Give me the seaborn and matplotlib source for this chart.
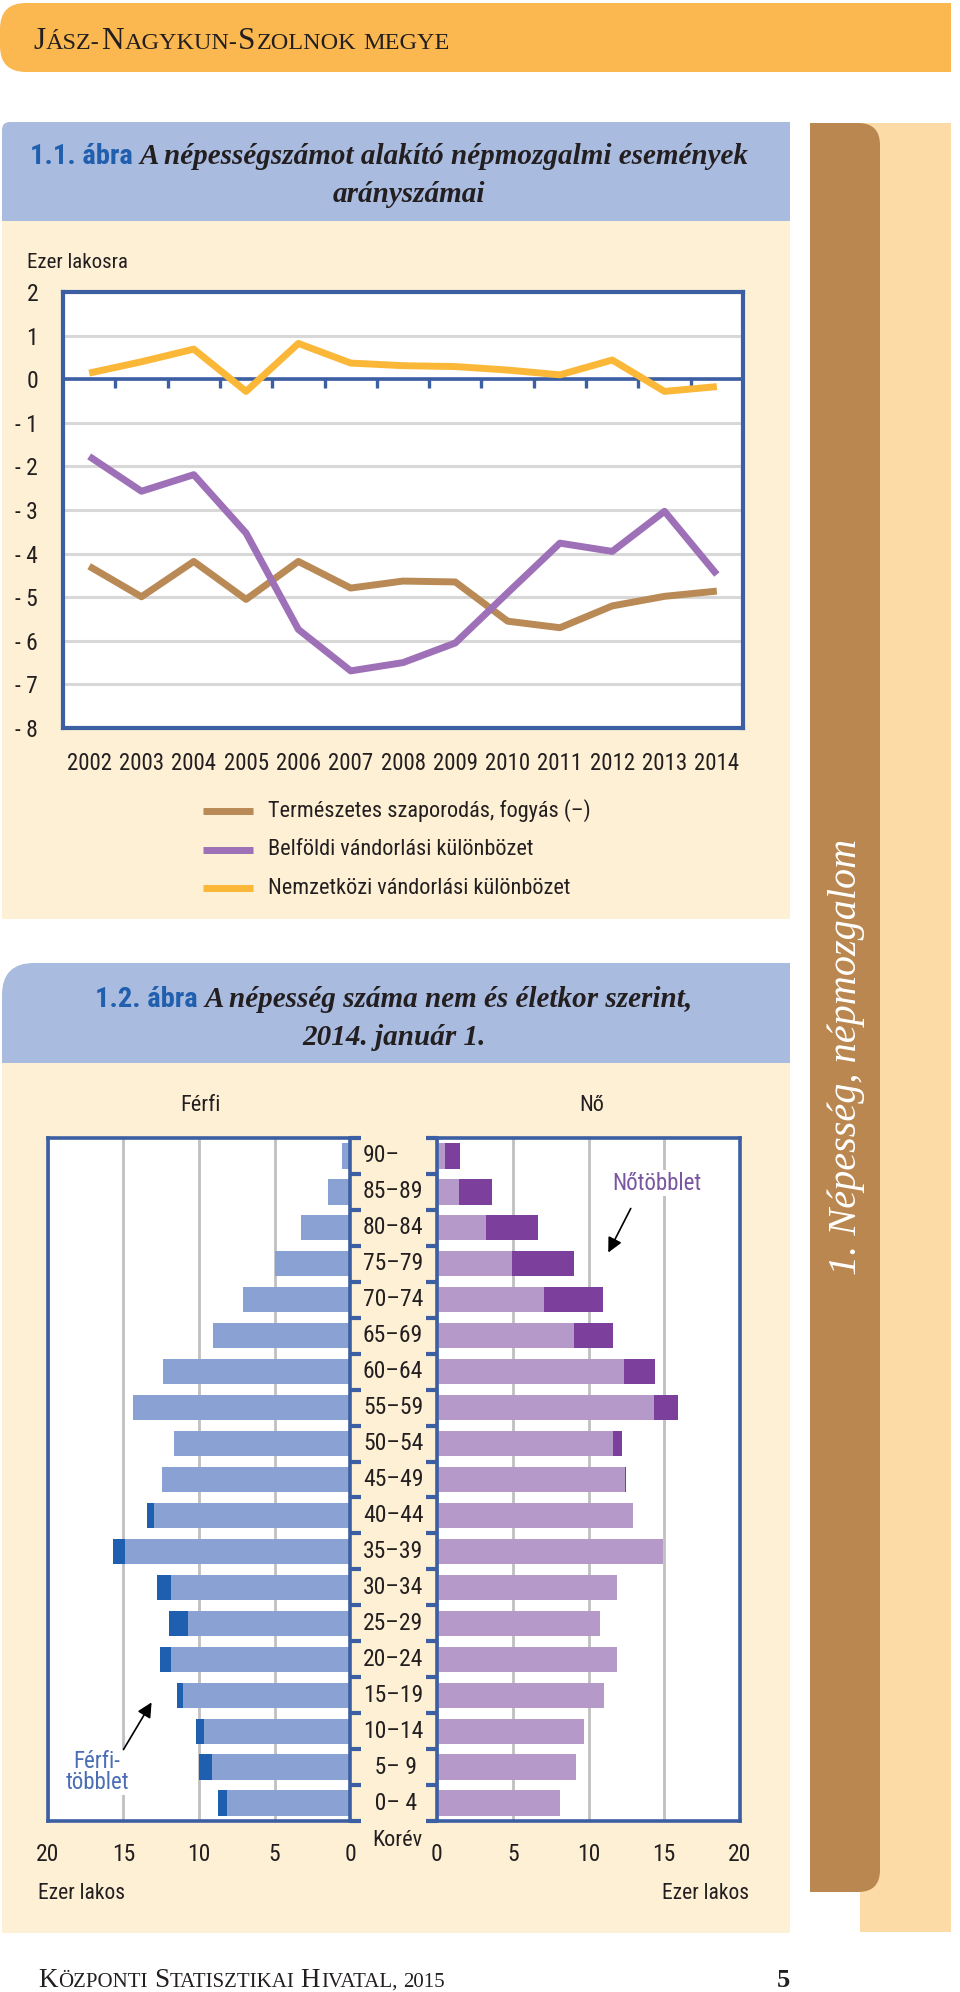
"""
Népmozgalmi arányszámok és korfa — Jász-Nagykun-Szolnok megye, 2002–2014.
"""

import matplotlib
matplotlib.use("Agg")
import matplotlib.pyplot as plt
from matplotlib.patches import FancyBboxPatch, Rectangle
from matplotlib.lines import Line2D
import matplotlib.transforms as mtrans
import numpy as np
import pandas as pd
import seaborn as sns

# --- adatok: 1.1. ábra ---
EVEK = ["2002", "2003", "2004", "2005", "2006", "2007", "2008",
        "2009", "2010", "2011", "2012", "2013", "2014"]
TERMESZETES = [-4.29, -4.99, -4.18, -5.05, -4.18, -4.79, -4.63,
               -4.65, -5.55, -5.70, -5.20, -4.98, -4.86]
BELFOLDI = [-1.77, -2.57, -2.19, -3.53, -5.74, -6.69, -6.50,
            -6.05, -4.90, -3.76, -3.95, -3.03, -4.48]
NEMZETKOZI = [0.14, 0.40, 0.69, -0.28, 0.82, 0.37, 0.31,
              0.29, 0.21, 0.10, 0.44, -0.28, -0.17]
SOROZATOK = ["Természetes szaporodás, fogyás (–)",
             "Belföldi vándorlási különbözet",
             "Nemzetközi vándorlási különbözet"]
Y_TICKS = [2, 1, 0, -1, -2, -3, -4, -5, -6, -7, -8]

# --- adatok: 1.2. ábra (ezer fő) ---
KOREV = ["90–", "85–89", "80–84", "75–79", "70–74", "65–69", "60–64",
         "55–59", "50–54", "45–49", "40–44", "35–39", "30–34", "25–29",
         "20–24", "15–19", "10–14", "\u20075– 9", "\u20070– 4"]
FERFI = [0.55, 1.47, 3.25, 4.97, 7.07, 9.05, 12.37, 14.35, 11.63, 12.43,
         13.46, 15.67, 12.77, 11.99, 12.60, 11.46, 10.17, 9.97, 8.75]
NO = [1.51, 3.64, 6.67, 9.01, 10.94, 11.60, 14.41, 15.94, 12.21, 12.50,
      12.95, 14.89, 11.88, 10.75, 11.85, 11.03, 9.69, 9.17, 8.14]
X_TICKS_PYR = [0, 5, 10, 15, 20]

# --- színek ---
KEK = "#3c5fa3"
SZOVEG = "#231f20"
KREM = "#fdf0d5"
CIMKEK = "#aabbe0"
NARANCS = "#fbb850"
BARNA = "#b9874f"
DRAPP = "#fcdba6"
SZINEK_VONAL = ["#b98a55", "#9e70b7", "#fbb838"]
FERFI_VIL, FERFI_SOT = "#8aa2d3", "#1f5fb0"
NO_VIL, NO_SOT = "#b59ac9", "#7d3f9c"

W, H = 960, 1992

sns.set_style("white")
# keskeny betűtípus, ha van; különben Roboto
plt.rcParams["font.family"] = ["Liberation Sans Narrow", "Roboto Condensed",
                               "Roboto", "DejaVu Sans"]
plt.rcParams["text.color"] = SZOVEG

fig = plt.figure(figsize=(W / 100, H / 100), dpi=100)


def px_ax(x0, y0, x1, y1, **kw):
    """Tengely pixelkoordinátákban (bal-felső origó)."""
    return fig.add_axes([x0 / W, 1 - y1 / H, (x1 - x0) / W, (y1 - y0) / H], **kw)


def full_ax(z):
    a = fig.add_axes([0, 0, 1, 1], zorder=z)
    a.set_xlim(0, W)
    a.set_ylim(H, 0)
    a.axis("off")
    a.patch.set_alpha(0)
    return a


bg = full_ax(-5)
ov = full_ax(10)


def box(x0, y0, x1, y1, color, r=0):
    if r:
        bg.add_patch(FancyBboxPatch((x0, y0), x1 - x0, y1 - y0,
                                    boxstyle=f"round,pad=0,rounding_size={r}",
                                    fc=color, ec="none"))
    else:
        bg.add_patch(Rectangle((x0, y0), x1 - x0, y1 - y0, fc=color, ec="none"))


# háttérelemek
box(0, 3, 951, 72, NARANCS, r=26)
box(500, 3, 951, 72, NARANCS)
box(2, 221, 790, 919, KREM)
box(2, 122, 790, 221, CIMKEK, r=8)
box(30, 122, 790, 221, CIMKEK)
box(2, 140, 790, 221, CIMKEK)
box(2, 1063, 790, 1933, KREM)
box(2, 963, 790, 1063, CIMKEK, r=32)
box(40, 963, 790, 1063, CIMKEK)
box(2, 1000, 790, 1063, CIMKEK)
box(860, 123, 951, 1932, DRAPP)
box(810, 123, 880, 1892, BARNA, r=22)
box(810, 123, 850, 1892, BARNA)


def draw_runs(x, y, runs, ha="center", va="baseline"):
    """Több stílusú szöveg egymás után (runs: (szöveg, rés_px, kw))."""
    r = fig.canvas.get_renderer()
    arts = [ov.text(0, y, s, ha="left", va=va, **kw) for s, g, kw in runs]
    ws = [a.get_window_extent(renderer=r).width for a in arts]
    total = sum(ws) + sum(g for _, g, _ in runs)
    cur = {"center": x - total / 2, "right": x - total}.get(ha, x)
    for a, w, (s, g, kw) in zip(arts, ws, runs):
        cur += g
        a.set_x(cur)
        cur += w


def small_caps(s, big, small, **kw):
    runs = []
    for i, word in enumerate(s.split(" ")):
        gap = 0.28 * small * 100 / 72 if i else 0
        cur, cur_big = "", None
        for ch in word:
            isbig = ch.isupper()
            if cur and isbig != cur_big:
                runs.append((cur, gap, dict(fontsize=big if cur_big else small, **kw)))
                gap, cur = 1.0, ""
            cur += ch.upper()
            cur_big = isbig
        runs.append((cur, gap, dict(fontsize=big if cur_big else small, **kw)))
    return runs


SERIF = dict(family="Liberation Serif", color=SZOVEG)
draw_runs(33, 49, small_caps("Jász-Nagykun-Szolnok megye", 22.5, 17.5, **SERIF), ha="left")
draw_runs(38, 1987, small_caps("Központi Statisztikai Hivatal, 2015", 19.5, 15, **SERIF), ha="left")
ov.text(783, 1987, "5", ha="center", va="baseline", fontsize=19, fontweight="bold", **SERIF)

CIM_SZAM = dict(fontsize=20.5, fontweight="bold", color="#1f5fad")
CIM_SZOVEG = dict(fontsize=21, fontweight="bold", style="italic", **SERIF)
draw_runs(389, 164, [("1.1. ábra", 0, CIM_SZAM),
                     ("A népességszámot alakító népmozgalmi események", 7, CIM_SZOVEG)])
draw_runs(409, 202, [("arányszámai", 0, CIM_SZOVEG)])
draw_runs(394, 1007, [("1.2. ábra", 0, CIM_SZAM),
                      ("A népesség száma nem és életkor szerint,", 7, CIM_SZOVEG)])
draw_runs(394, 1045, [("2014. január 1.", 0, CIM_SZOVEG)])

ov.text(846, 1057, "1. Népesség, népmozgalom", rotation=90, ha="center", va="center",
        color="white", fontsize=29, family="Liberation Serif", style="italic")

# ---------------- 1.1. ábra: vonaldiagram ----------------
df_vonal = pd.DataFrame({
    "ev_idx": list(range(len(EVEK))) * 3,
    "ertek": TERMESZETES + BELFOLDI + NEMZETKOZI,
    "sorozat": [s for s in SOROZATOK for _ in EVEK],
})

ax1 = px_ax(63, 292, 743, 728)
ax1.set_facecolor("white")
sns.lineplot(data=df_vonal, x="ev_idx", y="ertek", hue="sorozat", hue_order=SOROZATOK,
             palette=dict(zip(SOROZATOK, SZINEK_VONAL)), linewidth=5, legend=False,
             ax=ax1, solid_capstyle="butt", solid_joinstyle="round", zorder=5)
ax1.set_xlim(-0.5, len(EVEK) - 0.5)
ax1.set_ylim(min(Y_TICKS), max(Y_TICKS))
ax1.set_yticks(Y_TICKS)
ax1.set_yticklabels([str(v) if v >= 0 else f"- {abs(v)}" for v in Y_TICKS])
ax1.set_xticks(range(len(EVEK)))
ax1.set_xticklabels(EVEK)
ax1.grid(axis="y", color="#d8d8d8", lw=2.2)
ax1.grid(axis="x", visible=False)
ax1.axhline(0, color=KEK, lw=2.6, zorder=4)
ax1.vlines(np.arange(len(EVEK) - 1) + 0.5, -0.2, 0, colors=KEK, lw=2.4, zorder=4)
ax1.tick_params(axis="both", length=0, labelcolor=SZOVEG)
ax1.tick_params(axis="x", pad=17, labelsize=16.5)
ax1.tick_params(axis="y", pad=18, labelsize=17)
ax1.set_xlabel("")
ax1.set_ylabel("")
for sp in ax1.spines.values():
    sp.set_visible(True)
    sp.set_color(KEK)
    sp.set_linewidth(3)
ov.text(27, 262, "Ezer lakosra", ha="left", va="center", fontsize=15)

# jelmagyarázat
for i, (nev, szin) in enumerate(zip(SOROZATOK, SZINEK_VONAL)):
    yy = 811 + i * 38.5
    ov.add_line(Line2D([203, 253], [yy, yy], color=szin, lw=5, solid_capstyle="butt"))
    ov.text(268, yy, nev, ha="left", va="center", fontsize=16)

# ---------------- 1.2. ábra: korfa ----------------
df_kor = pd.DataFrame({"korev": KOREV, "ferfi": FERFI, "no": NO})
df_kor["kozos"] = df_kor[["ferfi", "no"]].min(axis=1)

ax_m = px_ax(48, 1138, 350, 1821)
ax_f = px_ax(437, 1138, 740, 1821)
hatarok = np.arange(-0.5, len(KOREV), 1)

for ax, col, sot, vil in [(ax_m, "ferfi", FERFI_SOT, FERFI_VIL),
                          (ax_f, "no", NO_SOT, NO_VIL)]:
    ax.set_facecolor("white")
    sns.barplot(data=df_kor, y="korev", x=col, order=KOREV, color=sot, saturation=1,
                width=0.7, linewidth=0, orient="h", ax=ax)
    sns.barplot(data=df_kor, y="korev", x="kozos", order=KOREV, color=vil, saturation=1,
                width=0.7, linewidth=0, orient="h", ax=ax)
    ax.set_ylim(len(KOREV) - 0.5, -0.5)
    ax.set_yticks(hatarok)
    ax.set_yticklabels([])
    ax.set_xticks(X_TICKS_PYR)
    ax.set_xticklabels([str(v) for v in X_TICKS_PYR])
    ax.grid(axis="x", color="#c0c0c0", lw=2)
    ax.grid(axis="y", visible=False)
    ax.set_axisbelow(True)
    ax.tick_params(axis="x", length=0, labelsize=17, pad=16, labelcolor=SZOVEG)
    ax.set_xlabel("")
    ax.set_ylabel("")
    for sp in ax.spines.values():
        sp.set_visible(True)
        sp.set_color(KEK)
        sp.set_linewidth(2.6)

ax_m.set_xlim(20, 0)
ax_f.set_xlim(0, 20)
ax_m.yaxis.tick_right()
ax_m.tick_params(axis="y", right=True, left=False, direction="out", length=8, width=3, color=KEK)
ax_f.yaxis.tick_left()
ax_f.tick_params(axis="y", left=True, right=False, direction="out", length=8, width=3, color=KEK)

tr = mtrans.blended_transform_factory(ax_f.transAxes, ax_f.transData)
for i, k in enumerate(KOREV):
    ax_f.text((363 - 437) / 303, i, k, transform=tr, ha="left", va="center",
              fontsize=17, clip_on=False)

ov.text(200, 1105, "Férfi", ha="center", va="center", fontsize=16)
ov.text(592, 1105, "Nő", ha="center", va="center", fontsize=16)
ov.text(397, 1840, "Korév", ha="center", va="center", fontsize=16)
ov.text(38, 1893, "Ezer lakos", ha="left", va="center", fontsize=15.5)
ov.text(749, 1893, "Ezer lakos", ha="right", va="center", fontsize=15.5)

ov.text(657, 1183, "Nőtöbblet", ha="center", va="center", fontsize=16.5, color="#7a55a0",
        bbox=dict(fc="white", ec="none", pad=1))
ov.annotate("", xy=(607, 1255), xytext=(632, 1206),
            arrowprops=dict(arrowstyle="-|>", color="black", lw=1.2, mutation_scale=22))
ov.text(97, 1772, "Férfi-\ntöbblet", ha="center", va="center", fontsize=16.5, color="#4a6db3",
        linespacing=0.85, bbox=dict(fc="white", ec="none", pad=1))
ov.annotate("", xy=(153, 1700), xytext=(122, 1752),
            arrowprops=dict(arrowstyle="-|>", color="black", lw=1.2, mutation_scale=22))

fig.savefig("out.png", dpi=100)
plt.close(fig)
